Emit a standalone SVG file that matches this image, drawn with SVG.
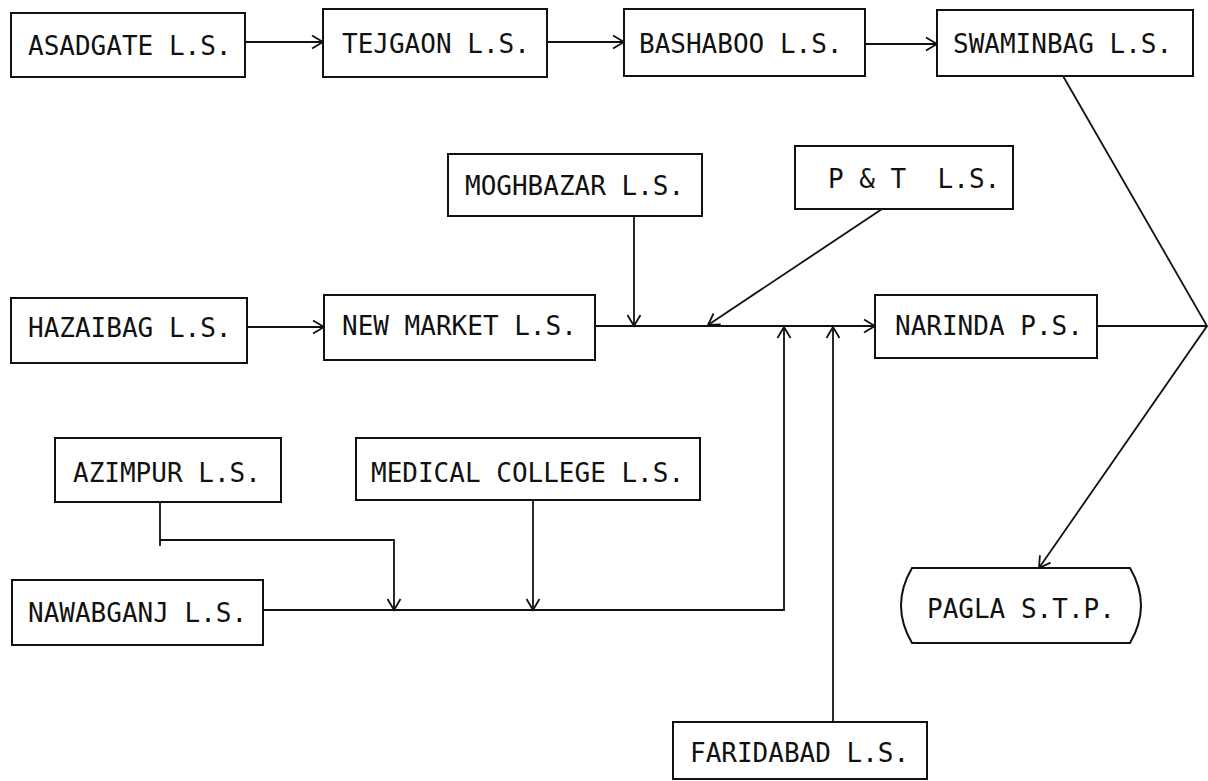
<svg xmlns="http://www.w3.org/2000/svg" width="1208" height="781" viewBox="0 0 1208 781">
  <style>
    .box { fill: #fff; stroke: #111; stroke-width: 2; }
    .lbl { font-family: "DejaVu Sans Mono", "Liberation Mono", monospace; font-size: 26px; fill: #111; white-space: pre; }
    .ln { fill: none; stroke: #111; stroke-width: 1.8; }
    .ar { marker-end: url(#arr); }
  </style>
  <defs>
    <marker id="arr" markerUnits="userSpaceOnUse" viewBox="0 0 16 16" markerWidth="16" markerHeight="16" refX="14" refY="8" orient="auto">
      <path d="M3,1.5 L14,8 L3,14.5" fill="none" stroke="#111" stroke-width="1.8"/>
    </marker>
  </defs>
  <rect width="1208" height="781" fill="#fff"/>

  <!-- connectors -->
  <g id="connectors">
    <path class="ln ar" d="M245,42 H323"/>
    <path class="ln ar" d="M547,42 H624"/>
    <path class="ln ar" d="M865,44 H937"/>
    <path class="ln ar" d="M247,327 H324"/>
    <path class="ln ar" d="M595,326 H875"/>
    <path class="ln ar" d="M634,216 V326"/>
    <path class="ln ar" d="M882,209 L708,325"/>
    <path class="ln ar" d="M833,722 V327"/>
    <path class="ln ar" d="M263,610 H784 V327"/>
    <path class="ln" d="M160,502 V546"/>
    <path class="ln ar" d="M160,540 H394 V610"/>
    <path class="ln ar" d="M533,500 V610"/>
    <path class="ln" d="M1097,326 H1207"/>
    <path class="ln ar" d="M1063,76 L1207,326 L1039,568"/>
  </g>

  <!-- stations -->
  <g id="asadgate"><rect class="box" x="11" y="13" width="234" height="64"/><text class="lbl" x="28" y="55">ASADGATE L.S.</text></g>
  <g id="tejgaon"><rect class="box" x="323" y="9" width="224" height="68"/><text class="lbl" x="342" y="53">TEJGAON L.S.</text></g>
  <g id="bashaboo"><rect class="box" x="624" y="9" width="241" height="67"/><text class="lbl" x="639" y="53">BASHABOO L.S.</text></g>
  <g id="swaminbag"><rect class="box" x="937" y="10" width="256" height="66"/><text class="lbl" x="953" y="53">SWAMINBAG L.S.</text></g>
  <g id="moghbazar"><rect class="box" x="448" y="154" width="254" height="62"/><text class="lbl" x="465" y="195">MOGHBAZAR L.S.</text></g>
  <g id="p-and-t"><rect class="box" x="795" y="146" width="218" height="63"/><text class="lbl" x="828" y="188">P &amp; T  L.S.</text></g>
  <g id="hazaibag"><rect class="box" x="11" y="298" width="236" height="65"/><text class="lbl" x="28" y="337">HAZAIBAG L.S.</text></g>
  <g id="new-market"><rect class="box" x="324" y="295" width="271" height="65"/><text class="lbl" x="342" y="335">NEW MARKET L.S.</text></g>
  <g id="narinda"><rect class="box" x="875" y="295" width="222" height="63"/><text class="lbl" x="895" y="335">NARINDA P.S.</text></g>
  <g id="azimpur"><rect class="box" x="55" y="438" width="226" height="64"/><text class="lbl" x="73" y="482">AZIMPUR L.S.</text></g>
  <g id="medical-college"><rect class="box" x="356" y="438" width="344" height="62"/><text class="lbl" x="371" y="482">MEDICAL COLLEGE L.S.</text></g>
  <g id="nawabganj"><rect class="box" x="12" y="580" width="251" height="65"/><text class="lbl" x="28" y="622">NAWABGANJ L.S.</text></g>
  <g id="pagla"><path class="box" d="M912,568 L1130,568 Q1152,605.5 1130,643 L912,643 Q890,605.5 912,568 Z"/><text class="lbl" x="927" y="618">PAGLA S.T.P.</text></g>
  <g id="faridabad"><rect class="box" x="673" y="722" width="254" height="57"/><text class="lbl" x="690" y="762">FARIDABAD L.S.</text></g>
</svg>
